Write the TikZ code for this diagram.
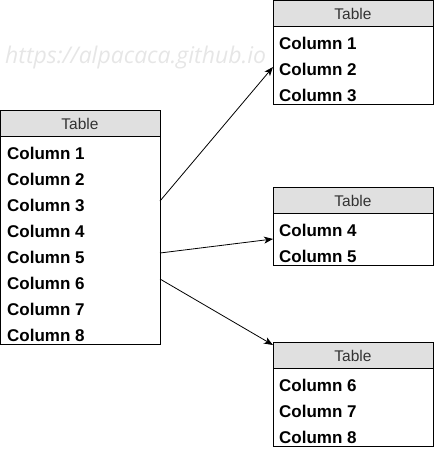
\documentclass[tikz,border=0pt]{standalone}
\usepackage{fontspec}
\setmainfont{Liberation Sans}
\newfontfamily\wmfont{Open Sans}
\usetikzlibrary{arrows.meta}
\definecolor{hdrfill}{HTML}{E0E0E0}
\definecolor{hdrtext}{HTML}{333333}
\definecolor{wmgray}{HTML}{E6E6E6}
\tikzset{
  hdrbox/.style={draw=black, line width=1pt, fill=hdrfill, minimum width=160pt, minimum height=26pt, inner sep=0pt, outer sep=0pt, anchor=north west},
  bodybox/.style={draw=black, line width=1pt, fill=white, minimum width=160pt, inner sep=0pt, outer sep=0pt, anchor=north west},
  hdrlabel/.style={anchor=base, inner sep=0pt, text=hdrtext, font=\fontsize{15.5}{18}\selectfont},
  collabel/.style={anchor=base west, inner sep=0pt, font=\bfseries\fontsize{17}{20}\selectfont},
  link/.style={draw=black, line width=0.8pt, -{Stealth[length=9pt,width=7pt,inset=2.5pt]}},
  wm/.style={anchor=base west, inner sep=0pt, text=wmgray, font=\wmfont\itshape\fontsize{23}{27}\selectfont}
}
\begin{document}
\begin{tikzpicture}[x=1pt,y=-1pt]
\useasboundingbox (0,0) rectangle (434,450);
% watermark
\node[wm] (wmk) at (5,63) {https://alpacaca.github.io};
% left table
\node[bodybox, minimum height=208pt] (Lb) at (0,136) {};
\node[hdrbox] (Lh) at (0,110) {};
\node[hdrlabel] (Lt) at (80,129) {Table};
\foreach \i in {1,...,8} {
  \node[collabel] (Lc\i) at (7,{159.5+26*(\i-1)}) {Column \i};
}
% right table 1
\node[bodybox, minimum height=78pt] (Ab) at (273,26) {};
\node[hdrbox] (Ah) at (273,0) {};
\node[hdrlabel] (At) at (353,19) {Table};
\foreach \i in {1,2,3} {
  \node[collabel] (Ac\i) at (279,{49.5+26*(\i-1)}) {Column \i};
}
% right table 2
\node[bodybox, minimum height=52pt] (Bb) at (273,213) {};
\node[hdrbox] (Bh) at (273,187) {};
\node[hdrlabel] (Bt) at (353,206) {Table};
\node[collabel] (Bc4) at (279,236.5) {Column 4};
\node[collabel] (Bc5) at (279,262.5) {Column 5};
% right table 3
\node[bodybox, minimum height=78pt] (Cb) at (273,368) {};
\node[hdrbox] (Ch) at (273,342) {};
\node[hdrlabel] (Ct) at (353,361) {Table};
\foreach \i in {6,7,8} {
  \node[collabel] (Cc\i) at (279,{391.5+26*(\i-6)}) {Column \i};
}
% connector end points
\coordinate (s1) at (Lb.east |- 0,201);
\coordinate (s2) at (Lb.east |- 0,253);
\coordinate (s3) at (Lb.east |- 0,279);
\coordinate (e1) at (Ab.west |- 0,67);
\coordinate (e2) at (Bb.west |- 0,239);
\coordinate (e3) at (Ch.north west);
\draw[link] (s1) -- (e1);
\draw[link] (s2) -- (e2);
\draw[link] (s3) -- ([yshift=-3pt]e3);
\end{tikzpicture}
\end{document}
